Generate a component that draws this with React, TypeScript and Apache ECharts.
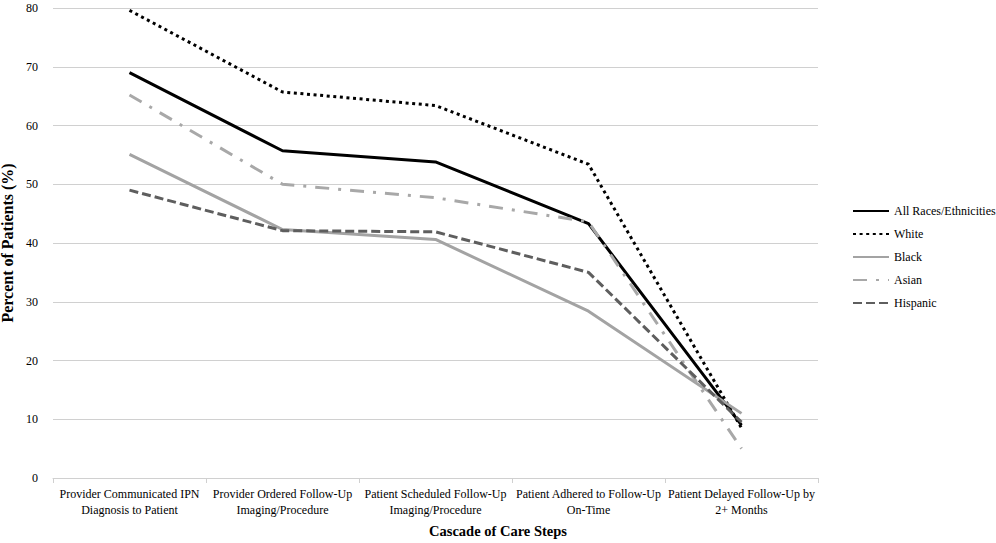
import React, { useEffect, useRef } from "react";
import * as echarts from "echarts";

const categories = [
  "Provider Communicated IPN\nDiagnosis to Patient",
  "Provider Ordered Follow-Up\nImaging/Procedure",
  "Patient Scheduled Follow-Up\nImaging/Procedure",
  "Patient Adhered to Follow-Up\nOn-Time",
  "Patient Delayed Follow-Up by\n2+ Months",
];

const allRaces = [69.0, 55.7, 53.8, 43.3, 9.0];
const white = [79.6, 65.7, 63.4, 53.4, 8.5];
const black = [55.1, 42.3, 40.6, 28.4, 11.0];
const asian = [65.2, 50.0, 47.7, 43.6, 5.0];
const hispanic = [49.0, 42.1, 41.9, 35.0, 9.5];

const FONT = "'Liberation Serif', 'Times New Roman', serif";

export default function App() {
  const ref = useRef<HTMLDivElement>(null);

  useEffect(() => {
    if (!ref.current) return;
    const chart = echarts.init(ref.current, null, { renderer: "svg" });
    const mk = (name: string, data: number[], color: string, type: any) => ({
      name,
      type: "line",
      data,
      symbol: "none",
      lineStyle: { color, width: 3, type, cap: "butt" },
      itemStyle: { color },
    });
    chart.setOption({
      animation: false,
      backgroundColor: "#ffffff",
      textStyle: { fontFamily: FONT },
      title: {
        text: "Cascade of Care Steps",
        left: "center",
        top: 523,
        padding: 0,
        textStyle: { fontFamily: FONT, fontSize: 14.5, fontWeight: "bold", color: "#000" },
      },
      grid: {
        left: 53,
        right: 178,
        top: 8,
        bottom: 65,
        containLabel: false,
        outerBoundsMode: "none",
      },
      legend: {
        orient: "vertical",
        left: 847,
        top: 200,
        itemWidth: 36,
        itemHeight: 14,
        itemGap: 11,
        itemStyle: { opacity: 0 },
        textStyle: { fontFamily: FONT, fontSize: 12, color: "#000" },
        data: ["All Races/Ethnicities", "White", "Black", "Asian", "Hispanic"],
      },
      xAxis: {
        type: "category",
        data: categories,
        boundaryGap: true,
        axisLine: { lineStyle: { color: "#d0d0d0", width: 1 } },
        axisTick: { show: true, length: 5, lineStyle: { color: "#d0d0d0" } },
        axisLabel: {
          interval: 0,
          margin: 8,
          fontFamily: FONT,
          fontSize: 12,
          lineHeight: 16,
          color: "#000",
        },
      },
      yAxis: {
        type: "value",
        min: 0,
        max: 80,
        interval: 10,
        name: "Percent of Patients (%)",
        nameLocation: "middle",
        nameRotate: 90,
        nameGap: 35,
        nameTextStyle: { fontFamily: FONT, fontSize: 16, fontWeight: "bold", color: "#000" },
        axisLine: { show: false },
        axisTick: { show: false },
        axisLabel: { fontFamily: FONT, fontSize: 12, color: "#000", margin: 15 },
        splitLine: { lineStyle: { color: "#d0d0d0", width: 1 } },
      },
      series: [
        mk("All Races/Ethnicities", allRaces, "#000000", "solid"),
        mk("White", white, "#000000", [3, 3.6]),
        mk("Black", black, "#a3a3a3", "solid"),
        mk("Asian", asian, "#a8a8a8", [14, 9, 3, 9]),
        mk("Hispanic", hispanic, "#5e5e5e", [9, 4]),
      ],
    });
    return () => chart.dispose();
  }, []);

  return (
    <div
      ref={ref}
      style={{ position: "fixed", left: 0, top: 0, width: 996, height: 543, background: "#fff" }}
    />
  );
}
